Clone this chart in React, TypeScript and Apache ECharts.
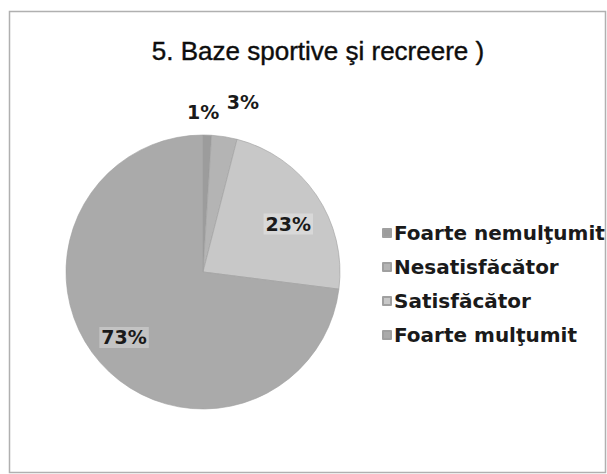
import React, { useEffect, useRef } from "react";
import * as echarts from "echarts";

const titleText = "5. Baze sportive şi recreere )";
const categories = ["Foarte nemulţumit", "Nesatisfăcător", "Satisfăcător", "Foarte mulţumit"];
const values = [1, 3, 23, 73];
const colors = ["#9c9c9c", "#b4b4b4", "#c8c8c8", "#aaaaaa"];
const labelDist = [1.18, 1.25, 0.7, 0.7];
const labelShift = [[-5, 2], [13, -1], [6, 6], [-7, 2]];

const CX = 203;
const CY = 272;
const R = 137;

export default function App() {
  const ref = useRef<HTMLDivElement>(null);
  useEffect(() => {
    if (!ref.current) return;
    const chart = echarts.init(ref.current, null, { renderer: "svg" });
    const total = values.reduce((a, b) => a + b, 0);
    const mids: number[] = [];
    let acc = 0;
    values.forEach((v) => {
      mids.push(((acc + v / 2) / total) * Math.PI * 2);
      acc += v;
    });
    chart.setOption({
      animation: false,
      backgroundColor: "#ffffff",
      title: {
        text: titleText,
        left: 313,
        top: 33,
        textAlign: "center",
        textStyle: {
          fontFamily: "Liberation Sans",
          fontSize: 26,
          fontWeight: "normal",
          color: "#0d0d0d",
          textBorderColor: "#0d0d0d",
          textBorderWidth: 0.4,
        },
      },
      legend: {
        orient: "vertical",
        left: 377,
        top: 218,
        itemWidth: 8,
        itemHeight: 8,
        itemGap: 14,
        icon: "rect",
        data: categories,
        textStyle: {
          fontFamily: "DejaVu Sans",
          fontSize: 20,
          fontWeight: "bold",
          color: "#1a1a1a",
          lineHeight: 18,
          padding: [0, 0, 0, -2],
        },
      },
      graphic: [
        {
          type: "rect",
          shape: { x: 9.5, y: 11.5, width: 596, height: 461 },
          style: { fill: "none", stroke: "#b0b0b0", lineWidth: 1.5 },
          silent: true,
        },
      ],
      series: [
        {
          type: "pie",
          center: [CX, CY],
          radius: [0, R],
          startAngle: 90,
          clockwise: true,
          data: categories.map((c, i) => ({
            name: c,
            value: values[i],
            itemStyle: { color: colors[i] },
            label:
              i >= 2
                ? { backgroundColor: "rgba(255,255,255,0.3)", padding: [1, 2] }
                : {},
          })),
          itemStyle: { borderColor: "#a0a0a0", borderWidth: 0.6 },
          label: {
            show: true,
            position: "inside",
            formatter: (p: any) => p.value + "%",
            fontFamily: "DejaVu Sans",
            fontSize: 19,
            fontWeight: "bold",
            color: "#1a1a1a",
          },
          labelLine: { show: false },
          labelLayout: (p: any) => {
            const i = p.dataIndex;
            const a = mids[i];
            const d = R * labelDist[i];
            return {
              x: CX + d * Math.sin(a) + labelShift[i][0],
              y: CY - d * Math.cos(a) + labelShift[i][1],
              align: "center",
              verticalAlign: "middle",
            };
          },
          emphasis: { disabled: true },
        },
      ],
    });
    return () => chart.dispose();
  }, []);
  return (
    <div
      ref={ref}
      style={{ position: "fixed", left: 0, top: 0, width: 607, height: 474 }}
    />
  );
}
